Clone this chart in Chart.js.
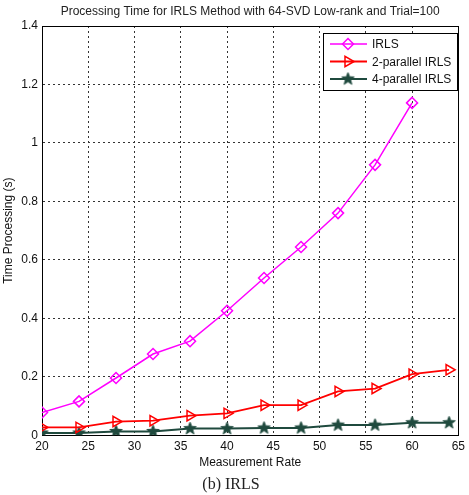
<!DOCTYPE html>
<html>
<head>
<meta charset="utf-8">
<script src="https://cdn.jsdelivr.net/npm/chart.js@4"></script>
<style>
  html, body { margin: 0; padding: 0; background: #fff; }
  #wrap { width: 469px; height: 495px; }
</style>
</head>
<body>
<div id="wrap"><canvas id="chart" width="469" height="495"></canvas></div>
<script>
// measurement rates
const rates = [20, 24, 28, 32, 36, 40, 44, 48, 52, 56, 60, 64];
const irls = [0.078, 0.116, 0.196, 0.278, 0.322, 0.426, 0.538, 0.644, 0.76, 0.925, 1.137];
const irls2 = [0.027, 0.027, 0.047, 0.05, 0.067, 0.075, 0.103, 0.103, 0.15, 0.16, 0.209, 0.224];
const irls4 = [0.008, 0.008, 0.013, 0.013, 0.023, 0.023, 0.025, 0.025, 0.035, 0.035, 0.043, 0.043];
const seriesNames = ['IRLS', '2-parallel IRLS', '4-parallel IRLS'];

const toPoints = (vals) => vals.map((v, i) => ({ x: rates[i], y: v }));

// filled five point star marker
const makeStar = (color, r) => {
  const c = document.createElement('canvas');
  c.width = c.height = r * 2 + 2;
  const g = c.getContext('2d');
  g.translate(r + 1, r + 1);
  g.beginPath();
  for (let k = 0; k < 10; k++) {
    const rad = k % 2 === 0 ? r : r * 0.42;
    const a = -Math.PI / 2 + k * Math.PI / 5;
    g.lineTo(rad * Math.cos(a), rad * Math.sin(a));
  }
  g.closePath();
  g.fillStyle = color;
  g.fill();
  g.strokeStyle = color;
  g.lineWidth = 1;
  g.stroke();
  return c;
};
const starImg = makeStar('#1f4a3e', 6.5);

const FONT = 'Arial, "Liberation Sans", sans-serif';

const insideLegend = {
  id: 'insideLegend',
  afterDatasetsDraw(chart) {
    const ctx = chart.ctx;
    const x0 = 323, y0 = 33, w = 134, h = 57;
    ctx.save();
    ctx.fillStyle = '#fff';
    ctx.fillRect(x0, y0, w, h);
    ctx.strokeStyle = '#000';
    ctx.lineWidth = 1;
    ctx.strokeRect(x0 + 0.5, y0 + 0.5, w, h);
    chart.data.datasets.forEach((ds, i) => {
      const y = y0 + 11 + i * 17.5;
      ctx.strokeStyle = ds.borderColor;
      ctx.lineWidth = ds.borderWidth;
      ctx.beginPath();
      ctx.moveTo(x0 + 7, y);
      ctx.lineTo(x0 + 44, y);
      ctx.stroke();
      ctx.fillStyle = ds.pointBackgroundColor || ds.borderColor;
      ctx.strokeStyle = ds.borderColor;
      ctx.lineWidth = ds.pointBorderWidth;
      Chart.helpers.drawPoint(ctx, {
        pointStyle: ds.pointStyle,
        rotation: ds.pointRotation || 0,
        radius: ds.pointRadius,
        borderWidth: ds.pointBorderWidth
      }, x0 + 25, y);
      ctx.fillStyle = '#111';
      ctx.font = '12px ' + FONT;
      ctx.textBaseline = 'middle';
      ctx.fillText(ds.label, x0 + 49, y + 1);
    });
    ctx.restore();
  }
};

// centre the title over the axes, like matlab does; caption over the page
const titleOverAxes = {
  id: 'titleOverAxes',
  afterLayout(chart) {
    if (chart.titleBlock) {
      chart.titleBlock.left = chart.chartArea.left;
      chart.titleBlock.right = chart.chartArea.right;
    }
    if (chart.subtitleBlock) {
      chart.subtitleBlock.left = 0;
      chart.subtitleBlock.right = chart.width + 6;
    }
  }
};

new Chart(document.getElementById('chart'), {
  type: 'line',
  data: {
    datasets: [
      {
        label: seriesNames[0],
        data: toPoints(irls),
        borderColor: '#ff00ff',
        backgroundColor: 'rgba(0,0,0,0)',
        borderWidth: 1.5,
        pointStyle: 'rectRot',
        pointRadius: 5.5,
        pointBorderWidth: 1.5,
        pointBorderColor: '#ff00ff',
        pointBackgroundColor: 'rgba(0,0,0,0)'
      },
      {
        label: seriesNames[1],
        data: toPoints(irls2),
        borderColor: '#ff0000',
        backgroundColor: 'rgba(0,0,0,0)',
        borderWidth: 1.8,
        pointStyle: 'triangle',
        pointRotation: 90,
        pointRadius: 6,
        pointBorderWidth: 1.5,
        pointBorderColor: '#ff0000',
        pointBackgroundColor: 'rgba(0,0,0,0)'
      },
      {
        label: seriesNames[2],
        data: toPoints(irls4),
        borderColor: '#1f4a3e',
        backgroundColor: '#1f4a3e',
        borderWidth: 2,
        pointStyle: starImg,
        pointRadius: 7,
        pointBorderWidth: 1
      }
    ]
  },
  options: {
    responsive: false,
    animation: false,
    layout: { padding: { left: 0, right: 7, top: 0, bottom: 0 } },
    plugins: {
      legend: { display: false },
      tooltip: { enabled: false },
      title: {
        display: true,
        text: 'Processing Time for IRLS Method with 64-SVD Low-rank and Trial=100',
        color: '#222',
        font: { family: FONT, size: 12, weight: 'normal' },
        padding: { top: 4, bottom: 7.6 }
      },
      subtitle: {
        display: true,
        position: 'bottom',
        text: '(b) IRLS',
        color: '#222',
        font: { family: '"Liberation Serif", "Times New Roman", serif', size: 16 },
        padding: { top: 5, bottom: 1 }
      }
    },
    scales: {
      x: {
        type: 'linear',
        min: 20,
        max: 65,
        ticks: { stepSize: 5, color: '#111', font: { family: FONT, size: 12 }, padding: 4, maxRotation: 0 },
        grid: { color: '#333', lineWidth: 1, drawTicks: false },
        border: { display: true, color: '#000', width: 1, dash: [2, 3] },
        title: {
          display: true,
          text: 'Measurement Rate',
          color: '#111',
          font: { family: FONT, size: 12 },
          padding: { top: 0, bottom: 0 }
        },
        afterFit: (s) => { s.height = 34.5; }
      },
      y: {
        min: 0,
        max: 1.4,
        ticks: {
          stepSize: 0.2,
          color: '#111',
          font: { family: FONT, size: 12 },
          padding: 4,
          callback: (v) => String(Number(v.toFixed(1)))
        },
        grid: { color: '#333', lineWidth: 1, drawTicks: false },
        border: { display: true, color: '#000', width: 1, dash: [2, 3] },
        title: {
          display: true,
          text: 'Time Processing (s)',
          color: '#111',
          font: { family: FONT, size: 12 },
          padding: { top: 1, bottom: 0 }
        },
        afterFit: (s) => { s.width = 42; }
      }
    }
  },
  plugins: [titleOverAxes, insideLegend, {
    id: 'frame',
    beforeDatasetsDraw(chart) {
      const a = chart.chartArea, ctx = chart.ctx;
      ctx.save();
      ctx.strokeStyle = '#000';
      ctx.lineWidth = 1;
      ctx.setLineDash([]);
      ctx.strokeRect(Math.round(a.left) + 0.5, Math.round(a.top) + 0.5, Math.round(a.right - a.left), Math.round(a.bottom - a.top));
      ctx.restore();
    }
  }]
});
</script>
</body>
</html>
